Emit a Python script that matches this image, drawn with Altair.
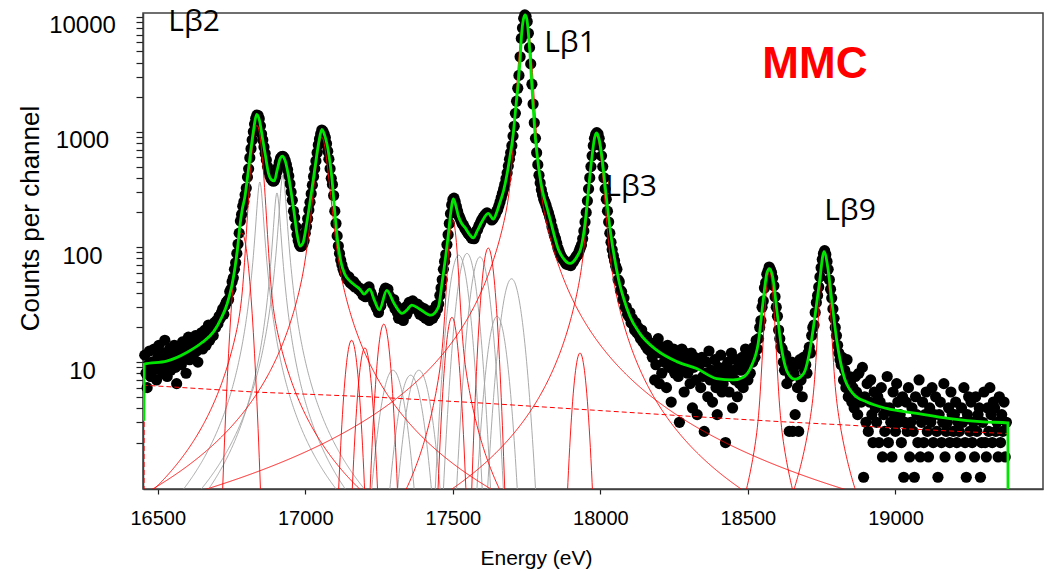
import numpy as np
import pandas as pd
import altair as alt

# ---------------- measured spectrum (counts per channel, 4 eV channels from 16456 eV) ----------------
channel_start = 16456
channel_step = 4
dot_counts = [
    11.5, 8, 6, 9.5, 12.5, 7.5, 10, 8.5, 13, 9,
    7, 11, 14, 9, 10.5, 8, 12, 15.5, 9.5, 7.5,
    11, 13, 8.5, 12, 10, 14, 9, 6.5, 12.5, 10.5,
    13, 9.5, 15, 11, 12, 8, 14, 16.5, 10.5, 12,
    15, 11.5, 13.5, 17, 12.5, 10, 16, 14, 18, 13,
    16.5, 19, 14, 17.5, 21, 15.5, 18, 20, 17, 22,
    20, 23, 21.5, 25, 24, 27, 29, 26, 31, 33,
    34, 35, 41, 43, 50, 54, 64, 73, 88, 106,
    132, 168, 192, 226, 248, 284, 325, 405, 478, 596,
    715, 850, 1005, 1170, 1310, 1400, 1390, 1300, 1130, 960,
    850, 740, 650, 570, 500, 452, 415, 392, 380, 373,
    380, 410, 450, 495, 545, 590, 610, 615, 596, 562,
    520, 470, 415, 355, 300, 255, 205, 180, 150, 128,
    114, 105, 101, 102, 106, 114, 132, 150, 176, 210,
    245, 290, 345, 410, 480, 560, 660, 770, 870, 960,
    1040, 1010, 955, 890, 790, 680, 580, 480, 395, 350,
    280, 205, 160, 125, 102, 88, 77, 70, 64, 60,
    58, 54, 52, 55, 49, 51, 47, 50, 45, 47,
    45, 43, 44, 41, 42, 38, 40, 37, 42, 44,
    45, 41, 39, 36, 33, 34, 30, 29, 27, 30,
    31, 35, 38, 42, 44, 40, 43, 38, 36, 34,
    32, 35, 29, 31, 27, 24, 28, 25, 27, 23,
    28, 30, 26, 31, 33, 29, 32, 34, 30, 31,
    29, 32, 28, 26, 30, 27, 25, 29, 24, 27,
    26, 23, 25, 28, 24, 27, 26, 31, 29, 32,
    38, 44, 52, 64, 75, 86, 105, 128, 160, 195,
    232, 258, 266, 248, 225, 205, 188, 178, 168, 158,
    155, 146, 142, 136, 131, 128, 124, 119, 121, 118,
    126, 138, 142, 152, 158, 168, 175, 182, 188, 194,
    198, 192, 186, 178, 172, 176, 184, 192, 204, 212,
    228, 246, 268, 292, 318, 350, 392, 440, 505, 580,
    660, 760, 920, 1120, 1450, 1850, 2400, 3100, 4500, 6500,
    8000, 9700, 10400, 10100, 9100, 7200, 5400, 3900, 2600, 1750,
    1200, 880, 660, 520, 420, 360, 315, 285, 260, 245,
    230, 212, 198, 182, 168, 150, 138, 126, 118, 108,
    98, 92, 86, 82, 79, 77, 74, 71, 73, 70,
    72, 69, 75, 74, 78, 81, 84, 86, 92, 98,
    104, 118, 138, 165, 200, 252, 320, 400, 500, 620,
    760, 880, 950, 985, 960, 880, 760, 620, 500, 400,
    320, 260, 205, 165, 132, 110, 95, 84, 76, 68,
    64, 52, 50, 42, 41, 35, 36, 30, 30, 26,
    25, 27, 22, 24, 21, 19, 22, 18, 20, 17,
    16, 19, 15, 17, 14, 16.5, 13, 15, 12.5, 14,
    11, 14.5, 7, 9.5, 13, 16, 6.5, 12, 8, 13.5,
    10, 12.5, 6, 14, 9, 11, 4.5, 10.5, 13, 8,
    9, 11.5, 7.5, 3, 10, 13, 8.5, 5.5, 12, 9.5,
    8, 10.5, 6.5, 12, 4, 9, 11, 7, 3.5, 10,
    9.5, 6, 11, 7.5, 2.5, 8, 10, 5, 12.5, 7,
    8.5, 4.5, 7, 10.5, 6, 3.5, 9, 7.5, 11.5, 5.5,
    6.5, 9, 2, 8, 10, 5.5, 7.5, 12, 4, 8.5,
    7, 10.5, 5, 9, 6.5, 8.5, 11, 6, 9.5, 13,
    9.5, 7, 11, 8, 12, 10, 13.5, 11, 15.5, 13,
    16, 20, 23, 30, 34, 44, 49, 58, 62, 67,
    64, 60, 54, 46, 37, 30, 25, 19, 16, 13.5,
    13, 10, 8.5, 11.5, 6.5, 9, 2.5, 7.5, 10, 2.5,
    8, 3.5, 9.5, 6, 2.5, 10.5, 7, 5, 11, 8.5,
    9.5, 8, 12, 13.5, 12, 17, 20, 21, 27, 33,
    38, 45, 55, 66, 78, 88, 93, 86, 75, 64,
    52, 43, 36, 29, 24, 20, 17, 14, 12, 10.5,
    9.5, 11, 7, 8.5, 6, 10.5, 5, 7.5, 6.5, 4.5,
    6, 4, 7.5, 5.5, 3.5, 8, 5, 4.5, 9, 1,
    5, 3, 6.5, 2.5, 4.5, 7, 3.5, 2, 5.5, 4,
    3, 5, 2, 4.5, 6, 1.5, 3.5, 2.5, 4, 7.5,
    2, 4, 3, 1.5, 5.5, 3.5, 2.5, 6.5, 4.5, 3,
    3.5, 2, 5, 1, 3, 4.5, 2.5, 6, 1.5, 3,
    4, 2.5, 1, 5, 3.5, 2, 7, 1.5, 3, 4.5,
    2, 3.5, 5.5, 2.5, 1.5, 4, 3, 6, 2, 3.5,
    5, 2.5, 1, 3.5, 4.5, 2, 3, 6.5, 1.5, 2.5,
    3, 4, 2, 5.5, 3.5, 2.5, 3.5, 4.5, 2, 3,
    2.5, 1.5, 4, 3, 6, 2, 1, 3.5, 5, 2.5,
    4.5, 2, 3, 1.5, 5, 2.5, 3.5, 4, 1, 2,
    3, 5.5, 2, 1.5, 4, 2.5, 6, 3.5, 2, 4.5,
    4, 2.5, 3, 1.5, 5, 2, 3.5, 2.5, 4.5, 1.5, 3,
]

# ---------------- total fit (green) ----------------
fit_energy = [16453, 16454, 16530, 16600, 16650, 16690, 16715, 16735, 16750, 16760, 16770,
              16778, 16786, 16795, 16805, 16815, 16825, 16835, 16845, 16855, 16865, 16875,
              16885, 16895, 16905, 16915, 16922, 16932, 16942, 16952, 16962, 16972, 16982,
              16992, 17002, 17012, 17024, 17036, 17046, 17056, 17066, 17078, 17090, 17100,
              17110, 17122, 17134, 17150, 17166, 17185, 17199, 17218, 17235, 17251, 17276,
              17302, 17328, 17345, 17361, 17387, 17426, 17451, 17464, 17477, 17485, 17493,
              17502, 17510, 17519, 17530, 17541, 17555, 17569, 17584, 17598, 17620, 17637,
              17650, 17660, 17672, 17683, 17694, 17705, 17714, 17722, 17728, 17733, 17739,
              17745, 17751, 17756, 17762, 17767, 17772, 17778, 17786, 17795, 17806, 17818,
              17832, 17846, 17858, 17874, 17897, 17920, 17935, 17948, 17960, 17970, 17980,
              17987, 17995, 18004, 18014, 18026, 18038, 18050, 18065, 18080, 18100, 18134,
              18191, 18259, 18326, 18394, 18450, 18484, 18513, 18535, 18552, 18564, 18573,
              18584, 18598, 18615, 18637, 18660, 18688, 18710, 18727, 18742, 18758, 18772,
              18784, 18801, 18823, 18857, 18903, 18970, 19072, 19185, 19298, 19381, 19382]
fit_counts = [3.1, 9.6, 10.2, 12.2, 14.8, 18.5, 24, 32, 45, 62, 95,
              150, 210, 270, 420, 680, 1050, 1420, 1250, 880, 620, 440,
              385, 375, 470, 590, 615, 560, 430, 300, 200, 130, 102,
              108, 145, 210, 340, 560, 820, 1050, 930, 680, 400, 200,
              110, 72, 58, 51, 47, 43, 39, 43, 34, 28.5, 42,
              32, 26.5, 28.5, 31.3, 29, 25.6, 30, 50, 88, 130, 200,
              262, 230, 185, 160, 148, 130, 120, 140, 165, 196, 175,
              205, 245, 310, 420, 620, 980, 1700, 2700, 4300, 7000, 9500,
              10400, 9500, 7200, 4500, 2700, 1700, 1000, 620, 410, 290, 225,
              165, 120, 95, 80, 72, 82, 100, 160, 320, 560, 880,
              980, 880, 640, 380, 200, 115, 75, 48, 35, 25, 17.7,
              12.7, 10.1, 8.8, 7.2, 7.0, 7.4, 9.4, 14.6, 34.6, 59, 65,
              55, 28.2, 12.7, 7.9, 7.1, 7.9, 12.7, 24.8, 48.3, 91, 63,
              34.6, 15.5, 7.9, 5.3, 4.5, 3.96, 3.58, 3.23, 3.03, 2.97, 0.05]

# ---------------- background (red dashed) ----------------
bg_energy = [16453, 16454, 16826, 17216, 17605, 17994, 18338, 18461, 18620, 18846, 19016, 19241, 19378]
bg_counts = [0.05, 6.3, 5.5, 5.0, 4.4, 3.8, 3.34, 3.2, 3.03, 2.83, 2.65, 2.48, 2.4]

# ---------------- fit components (peak parameters) ----------------
red_center = [16784, 16836, 17056, 17157, 17202, 17266, 17497, 17500, 17620, 17745, 17931, 17987, 18573, 18760]
red_gauss_amp = [133, 900, 250, 15.5, 13.3, 21.4, 24.5, 120, 98, 8100, 12, 450, 40, 60]
red_sigma = [20, 16, 20, 18, 18, 18, 18, 12, 18, 16, 18, 16, 12, 12]
red_lor_amp = [0, 240, 650, 0, 0, 0, 0, 50, 0, 2300, 0, 475, 22, 30]
red_gamma = [20, 20, 20, 20, 20, 20, 20, 20, 20, 20, 20, 20, 15, 17]

gray_center = [16846, 16904, 16924, 17297, 17357, 17385, 17520, 17548, 17592, 17650, 17699]
gray_amp = [367, 295, 420, 8.5, 7.7, 8.5, 85, 88, 82, 25, 53]
gray_width = [12, 12, 12, 33, 33, 33, 26, 26, 26, 26, 28]
gray_shape = ["L", "L", "L", "G", "G", "G", "G", "G", "G", "G", "G"]

# ---------------- annotations ----------------
label_text = ["Lβ2", "Lβ1", "Lβ3", "Lβ9"]
label_energy = [16623, 17897, 18104, 18846]
label_counts = [9060, 5940, 332, 206]
mmc_text = ["MMC"]
mmc_energy = [18727]
mmc_counts = [3826]

# ---------------- build tables ----------------
grid = np.arange(16454, 19380, 2.0)
FLOOR = 0.05

rows = []
for i, (c, ag, s, al, g) in enumerate(zip(red_center, red_gauss_amp, red_sigma, red_lor_amp, red_gamma)):
    d = grid - c
    y = ag * np.exp(-0.5 * (d / s) ** 2) + al / (1 + (d / g) ** 2)
    y = np.maximum(y, FLOOR)
    rows.append(pd.DataFrame({"E": grid, "v": y, "comp": f"r{i}"}))
red_df = pd.concat(rows)

rows = []
for i, (c, a, w, sh) in enumerate(zip(gray_center, gray_amp, gray_width, gray_shape)):
    d = grid - c
    if sh == "L":
        y = a / (1 + (d / w) ** 2)
    else:
        y = a * np.exp(-0.5 * (d / w) ** 2)
    y = np.maximum(y, FLOOR)
    rows.append(pd.DataFrame({"E": grid, "v": y, "comp": f"g{i}"}))
gray_df = pd.concat(rows)

dots_df = pd.DataFrame({
    "E": channel_start + channel_step * np.arange(len(dot_counts)),
    "v": dot_counts,
})
fit_df = pd.DataFrame({"E": fit_energy, "v": fit_counts})
bg_df = pd.DataFrame({"E": bg_energy, "v": bg_counts})
lab_df = pd.DataFrame({"E": label_energy, "v": label_counts, "t": label_text})
mmc_df = pd.DataFrame({"E": mmc_energy, "v": mmc_counts, "t": mmc_text})

# ---------------- encodings ----------------
xscale = alt.Scale(domain=[16450, 19500], nice=False, zero=False)
yscale = alt.Scale(type="log", domain=[0.79, 10800], nice=False)

y_tick_values = [2, 3, 4, 5, 6, 7, 8, 9, 10, 20, 30, 40, 50, 60, 70, 80, 90, 100,
                 200, 300, 400, 500, 600, 700, 800, 900, 1000,
                 2000, 3000, 4000, 5000, 6000, 7000, 8000, 9000, 10000]

x_axis = alt.Axis(
    values=[16500, 17000, 17500, 18000, 18500, 19000], format="d",
    title="Energy (eV)", titleFontSize=21, titleFontWeight="normal",
    titleX=393, titleY=69, titleBaseline="middle", titleAlign="center",
    labelFontSize=20, labelPadding=14, tickSize=5, grid=False,
)
y_axis = alt.Axis(
    values=y_tick_values, format="d",
    labelExpr="(datum.value == 10 || datum.value == 100 || datum.value == 1000 || datum.value == 10000) ? datum.label : ''",
    title="Counts per channel", titleFontSize=26, titleFontWeight="normal",
    titleX=-113, titleY=205, titleAlign="center", titleBaseline="middle", titleAngle=270,
    labelFontSize=24, labelAlign="center", labelBaseline="middle", labelPadding=54, labelOffset=9,
    tickSize=7, grid=False,
)

X = alt.X("E:Q", scale=xscale, axis=x_axis)
Y = alt.Y("v:Q", scale=yscale, axis=y_axis)

dots = alt.Chart(dots_df).mark_circle(size=125, color="black", opacity=1).encode(x=X, y=Y)
gray = alt.Chart(gray_df).mark_line(color="#a0a0a0", strokeWidth=0.9, clip=True).encode(x=X, y=Y, detail="comp:N")
red = alt.Chart(red_df).mark_line(color="#ff0000", strokeWidth=0.9, clip=True).encode(x=X, y=Y, detail="comp:N")
bg = alt.Chart(bg_df).mark_line(color="#ff0000", strokeWidth=1, strokeDash=[5, 3], clip=True).encode(x=X, y=Y)
fit = alt.Chart(fit_df).mark_line(color="#00e600", strokeWidth=2.8, clip=True, interpolate="monotone").encode(x=X, y=Y)
labels = alt.Chart(lab_df).mark_text(font="Open Sans", fontSize=30, color="black", align="center", baseline="middle").encode(x=X, y=Y, text="t:N")
mmc = alt.Chart(mmc_df).mark_text(font="Liberation Sans", fontSize=44, fontWeight="bold", color="#ff0000", align="center", baseline="middle").encode(x=X, y=Y, text="t:N")

chart = alt.layer(dots, gray, red, bg, fit, labels, mmc).properties(
    width=900, height=476,
    autosize=alt.AutoSizeParams(type="none"),
    padding={"left": 143, "top": 13, "right": 4, "bottom": 82},
).configure_view(
    stroke="#404040", strokeWidth=1.5
).configure_axis(
    labelFont="Liberation Sans", titleFont="Liberation Sans",
    labelColor="black", titleColor="black",
    domainColor="#404040", domainWidth=1.5, tickColor="#202020", tickWidth=1.2,
)

chart.save("out.html", embed_options={"renderer": "svg", "actions": False})
